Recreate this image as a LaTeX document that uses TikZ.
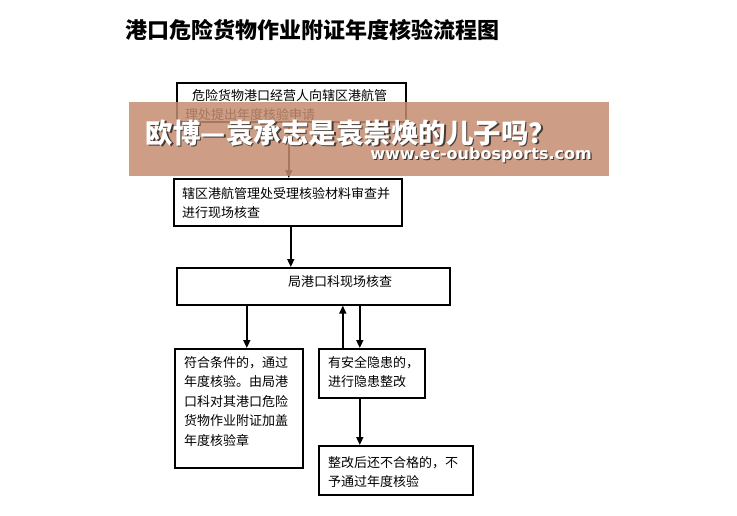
\documentclass[tikz,border=0pt]{standalone}
\usepackage{fontspec}
\setmainfont{Noto Sans CJK SC}
\newfontfamily\urlfont{DejaVu Sans}
\usetikzlibrary{positioning,arrows.meta}

\definecolor{bannerfill}{RGB}{196,140,112}
\definecolor{shadowgray}{RGB}{70,58,52}

\tikzset{
  box/.style={draw, line width=1.6pt, anchor=north west, inner sep=0pt},
  boxtext/.style={inner sep=0pt, align=left, font=\fontsize{13}{19.5}\selectfont},
  flow/.style={-{Triangle[width=7pt,length=8pt]}, line width=1.6pt},
  adtext/.style={font=\fontsize{27.5}{30}\selectfont\bfseries},
  urltext/.style={font=\urlfont\bfseries\fontsize{16}{18}\selectfont}
}

\begin{document}
\begin{tikzpicture}[x=1pt,y=-1pt]
\useasboundingbox (0,0) rectangle (737,515);

\node[font=\fontsize{22}{24}\selectfont\bfseries] (title) at (312.5,30) {港口危险货物作业附证年度核验流程图};

% boxes
\node[box, minimum width=229pt, minimum height=39pt] (b1) at (176,82) {};
\node[box, minimum width=228pt, minimum height=47pt] (b2) at (173,178) {};
\node[box, minimum width=273pt, minimum height=37pt] (b3) at (176,267) {};
\node[box, minimum width=128pt, minimum height=119pt] (b4) at (174,348) {};
\node[box, minimum width=106pt, minimum height=49pt] (b5) at (318,348) {};
\node[box, minimum width=154pt, minimum height=49pt] (b6) at (318,445) {};

% texts
\node[boxtext, below right=7pt and 9pt of b1.north west] (t1) {\hspace*{7pt}危险货物港口经营人向辖区港航管\\理处提出年度核验申请};
\node[boxtext, below right=9pt and 9pt of b2.north west] (t2) {辖区港航管理处受理核验材料审查并\\进行现场核查};
\node[boxtext, below right=8pt and 112pt of b3.north west] (t3) {局港口科现场核查};
\node[boxtext, below right=8pt and 10pt of b4.north west] (t4) {符合条件的，通过\\年度核验。由局港\\口科对其港口危险\\货物作业附证加盖\\年度核验章};
\node[boxtext, below right=8pt and 10pt of b5.north west] (t5) {有安全隐患的，\\进行隐患整改};
\node[boxtext, below right=11pt and 10pt of b6.north west] (t6) {整改后还不合格的，不\\予通过年度核验};

% arrows
\draw[flow] ([xshift=-2.5pt]b1.south) -- ([xshift=-2.5pt]b1.south |- b2.north);
\draw[flow] ([xshift=3pt]b2.south) -- ([xshift=3pt]b2.south |- b3.north);
\draw[flow] ([xshift=-66.5pt]b3.south) -- ([xshift=-66.5pt]b3.south |- b4.north);
\draw[flow] ([xshift=-29pt]b5.north) -- ([xshift=-29pt]b5.north |- b3.south);
\draw[flow] ([xshift=46.5pt]b3.south) -- ([xshift=46.5pt]b3.south |- b5.north);
\draw[flow] ([xshift=-12pt]b5.south) -- ([xshift=-12pt]b5.south |- b6.north);

% banner on top
\fill[bannerfill, fill opacity=0.85] (129,102) rectangle (609,176);
\node[adtext, shadowgray] (adshadow) at (352.5,134.5) {欧博—袁承志是袁崇焕的儿子吗？};
\node[adtext, white] (ad) at (351,133) {欧博—袁承志是袁崇焕的儿子吗？};
\node[urltext, shadowgray] (urlshadow) at (482.2,156.2) {www.ec-oubosports.com};
\node[urltext, white] (url) at (481,155) {www.ec-oubosports.com};
\end{tikzpicture}
\end{document}
